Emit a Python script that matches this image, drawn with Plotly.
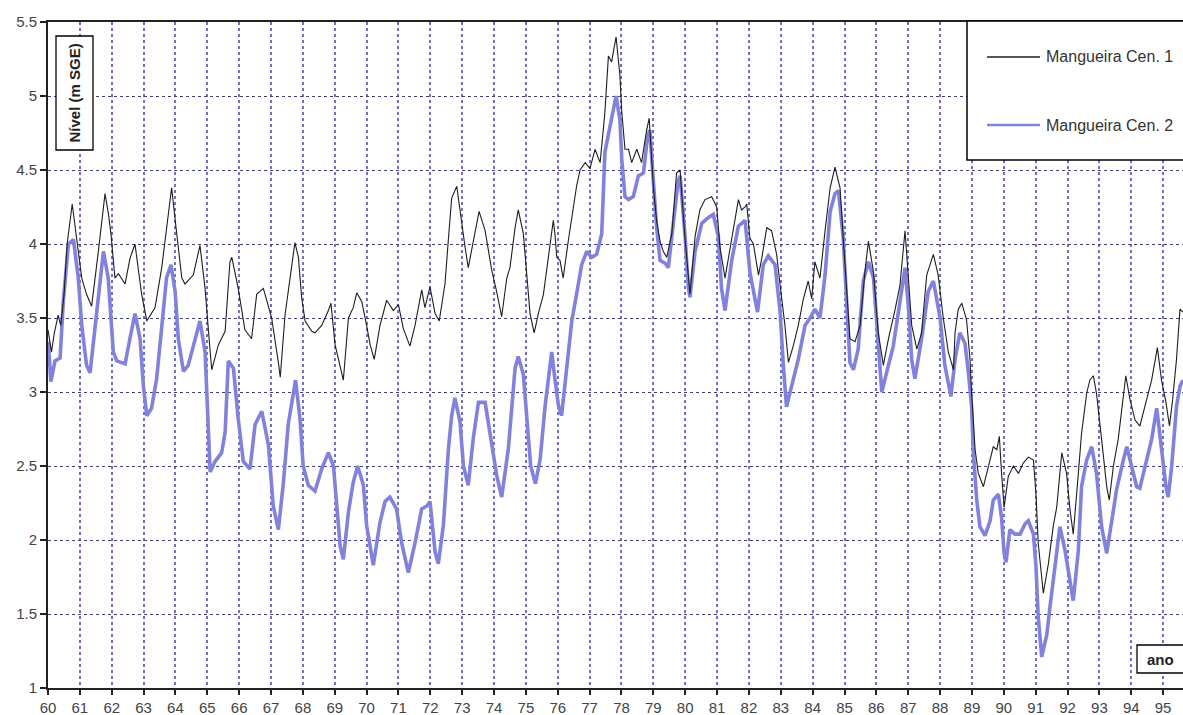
import plotly.graph_objects as go

# ---- data (years as 19xx - 1900, level in m SGE) ----
t1 = [60.00,60.11,60.20,60.32,60.40,60.50,60.60,60.76,60.95,61.06,61.21,61.37,61.58,61.79,61.90,61.98,
      62.10,62.21,62.42,62.57,62.73,62.94,63.10,63.36,63.57,63.78,63.88,64.04,64.20,64.30,64.56,64.77,
      64.93,65.09,65.14,65.35,65.56,65.71,65.77,65.97,66.18,66.39,66.55,66.76,67.02,67.23,67.29,67.44,
      67.60,67.75,67.86,67.96,68.07,68.28,68.38,68.59,68.80,68.88,69.01,69.17,69.27,69.43,69.58,69.69,
      69.85,70.00,70.11,70.24,70.42,70.63,70.84,71.00,71.15,71.36,71.52,71.73,71.83,71.99,72.15,72.28,
      72.46,72.57,72.67,72.83,72.98,73.09,73.19,73.35,73.53,73.72,73.93,74.08,74.24,74.40,74.50,74.66,
      74.76,74.92,75.02,75.13,75.26,75.39,75.55,75.70,75.86,75.91,75.97,76.07,76.17,76.33,76.49,76.59,
      76.70,76.86,77.01,77.17,77.33,77.48,77.59,77.69,77.83,77.95,78.01,78.11,78.22,78.32,78.48,78.63,
      78.79,78.87,79.00,79.10,79.21,79.31,79.42,79.58,79.73,79.84,79.99,80.10,80.15,80.31,80.46,80.62,
      80.83,80.99,81.09,81.25,81.46,81.67,81.77,81.88,81.93,82.03,82.14,82.30,82.40,82.56,82.71,82.87,
      82.98,83.13,83.24,83.39,83.55,83.71,83.86,83.97,84.07,84.23,84.39,84.55,84.70,84.86,84.96,85.07,
      85.17,85.33,85.49,85.64,85.75,85.91,86.06,86.22,86.38,86.59,86.74,86.90,87.00,87.11,87.27,87.42,
      87.58,87.79,87.94,88.10,88.26,88.42,88.47,88.57,88.68,88.83,88.94,88.99,89.10,89.20,89.36,89.51,
      89.67,89.78,89.86,89.93,90.01,90.14,90.30,90.46,90.61,90.77,90.93,91.01,91.08,91.24,91.40,91.55,
      91.66,91.82,91.97,92.08,92.18,92.34,92.44,92.60,92.70,92.81,92.91,93.07,93.23,93.31,93.44,93.59,
      93.70,93.83,93.96,94.12,94.27,94.48,94.64,94.82,94.95,95.09,95.20,95.30,95.42,95.53,95.62]
cen1 = [3.42,3.27,3.40,3.52,3.45,3.65,4.00,4.27,3.95,3.77,3.66,3.58,3.95,4.34,4.20,4.06,
        3.77,3.80,3.73,3.90,4.00,3.66,3.48,3.57,3.84,4.22,4.38,4.07,3.77,3.73,3.79,3.99,
        3.70,3.27,3.15,3.32,3.41,3.88,3.91,3.70,3.42,3.36,3.66,3.70,3.50,3.20,3.10,3.52,
        3.79,4.01,3.91,3.64,3.48,3.41,3.40,3.45,3.55,3.60,3.32,3.18,3.08,3.50,3.57,3.67,
        3.61,3.45,3.32,3.22,3.45,3.62,3.55,3.59,3.43,3.31,3.45,3.69,3.57,3.71,3.53,3.48,
        3.73,4.04,4.31,4.39,4.13,3.98,3.84,4.02,4.22,4.09,3.82,3.68,3.51,3.77,3.84,4.11,
        4.23,4.07,3.80,3.53,3.40,3.53,3.66,3.89,4.16,4.07,3.91,3.89,3.77,4.02,4.27,4.39,
        4.50,4.55,4.51,4.64,4.55,4.89,5.27,5.23,5.40,5.14,4.89,4.64,4.64,4.55,4.64,4.55,
        4.77,4.85,4.39,4.16,4.02,3.95,3.91,4.07,4.48,4.50,4.05,3.75,3.66,4.05,4.23,4.30,
        4.32,4.25,3.98,3.77,4.05,4.30,4.23,4.25,4.27,4.04,4.00,3.79,3.90,4.11,4.09,3.93,
        3.72,3.45,3.20,3.31,3.45,3.63,3.75,3.63,3.88,3.77,4.09,4.38,4.52,4.38,4.04,3.65,
        3.36,3.34,3.45,3.81,4.02,3.81,3.40,3.18,3.36,3.56,3.72,4.09,3.81,3.45,3.29,3.40,
        3.79,3.93,3.79,3.50,3.27,3.15,3.40,3.56,3.60,3.49,3.22,2.99,2.61,2.45,2.36,2.50,
        2.63,2.61,2.70,2.45,2.22,2.43,2.50,2.45,2.52,2.56,2.54,2.31,1.98,1.64,1.84,2.09,
        2.22,2.59,2.45,2.20,2.04,2.45,2.72,2.99,3.08,3.11,2.99,2.68,2.36,2.27,2.50,2.68,
        2.86,3.11,2.95,2.81,2.77,2.95,3.08,3.30,3.08,2.93,2.77,2.95,3.22,3.56,3.54]

t2 = [60.01,60.09,60.22,60.38,60.48,60.64,60.80,60.95,61.06,61.21,61.32,61.48,61.58,61.74,61.89,62.05,
      62.16,62.42,62.57,62.73,62.89,62.99,63.10,63.25,63.41,63.57,63.72,63.86,63.99,64.09,64.25,64.40,
      64.61,64.77,64.93,65.03,65.09,65.24,65.45,65.56,65.66,65.82,65.97,66.13,66.34,66.50,66.71,66.92,
      67.07,67.23,67.39,67.54,67.70,67.77,67.91,68.01,68.17,68.38,68.59,68.80,68.96,69.06,69.17,69.27,
      69.43,69.58,69.72,69.90,70.00,70.21,70.42,70.58,70.73,70.94,71.10,71.31,71.52,71.73,71.89,71.99,
      72.15,72.25,72.41,72.57,72.67,72.77,72.93,73.04,73.19,73.35,73.51,73.72,73.93,74.08,74.24,74.45,
      74.66,74.76,74.92,75.02,75.15,75.30,75.45,75.60,75.81,75.91,76.02,76.12,76.28,76.44,76.59,76.75,
      76.91,77.06,77.22,77.38,77.48,77.59,77.69,77.83,77.95,78.01,78.11,78.22,78.37,78.53,78.69,78.82,
      78.89,79.00,79.10,79.21,79.37,79.47,79.63,79.78,79.84,79.99,80.10,80.15,80.31,80.52,80.73,80.88,
      81.04,81.14,81.25,81.46,81.67,81.88,82.03,82.14,82.27,82.45,82.61,82.82,82.98,83.08,83.18,83.34,
      83.55,83.76,83.92,84.07,84.23,84.39,84.55,84.70,84.81,84.96,85.07,85.17,85.28,85.43,85.59,85.75,
      85.91,86.06,86.17,86.32,86.53,86.74,86.90,87.00,87.11,87.21,87.42,87.63,87.79,88.00,88.15,88.34,
      88.47,88.62,88.78,88.89,88.99,89.04,89.15,89.25,89.41,89.57,89.67,89.83,89.93,90.01,90.07,90.19,
      90.35,90.51,90.67,90.77,90.93,91.01,91.08,91.19,91.35,91.45,91.61,91.76,91.92,92.08,92.18,92.34,
      92.44,92.60,92.76,92.91,93.07,93.23,93.39,93.54,93.75,93.86,94.01,94.17,94.27,94.48,94.64,94.80,
      94.95,95.09,95.16,95.27,95.42,95.53,95.62]
cen2 = [3.34,3.07,3.21,3.23,3.61,4.00,4.03,3.77,3.45,3.18,3.13,3.45,3.68,3.95,3.77,3.27,
        3.21,3.19,3.36,3.53,3.36,3.05,2.84,2.89,3.09,3.45,3.77,3.86,3.68,3.36,3.14,3.18,
        3.36,3.48,3.27,2.78,2.46,2.53,2.59,2.73,3.21,3.16,2.82,2.53,2.48,2.78,2.87,2.64,
        2.23,2.07,2.39,2.78,3.00,3.08,2.82,2.50,2.37,2.33,2.48,2.59,2.50,2.21,1.96,1.87,
        2.19,2.39,2.50,2.37,2.10,1.83,2.12,2.26,2.29,2.21,1.98,1.78,1.98,2.21,2.23,2.26,
        1.92,1.84,2.10,2.62,2.84,2.96,2.80,2.50,2.37,2.69,2.93,2.93,2.66,2.44,2.29,2.62,
        3.16,3.24,3.12,2.83,2.50,2.38,2.55,2.90,3.27,3.09,2.91,2.84,3.16,3.48,3.66,3.86,
        3.95,3.91,3.93,4.07,4.62,4.75,4.84,5.00,4.84,4.57,4.32,4.30,4.32,4.46,4.48,4.73,
        4.77,4.43,4.12,3.89,3.87,3.84,4.12,4.43,4.46,4.07,3.70,3.64,3.95,4.14,4.18,4.20,
        4.05,3.70,3.55,3.89,4.12,4.16,3.81,3.68,3.54,3.86,3.92,3.86,3.54,3.18,2.90,3.04,
        3.22,3.45,3.50,3.56,3.50,3.79,4.22,4.34,4.36,4.04,3.63,3.20,3.15,3.29,3.75,3.88,
        3.77,3.36,3.00,3.13,3.31,3.61,3.84,3.59,3.22,3.09,3.36,3.68,3.75,3.50,3.18,2.97,
        3.22,3.40,3.33,3.13,2.90,2.61,2.27,2.09,2.03,2.13,2.27,2.31,2.15,1.91,1.85,2.07,
        2.04,2.04,2.11,2.13,2.04,1.82,1.48,1.21,1.36,1.55,1.82,2.09,1.93,1.73,1.59,1.93,
        2.36,2.54,2.63,2.45,2.09,1.91,2.13,2.34,2.54,2.63,2.50,2.36,2.35,2.54,2.68,2.89,
        2.63,2.36,2.29,2.50,2.90,3.04,3.08]

series_names = ["Mangueira Cen. 1", "Mangueira Cen. 2"]
x_ticks = list(range(60, 96))
y_ticks = [1, 1.5, 2, 2.5, 3, 3.5, 4, 4.5, 5, 5.5]

# ---- layout geometry (pixels) ----
W, H = 1183, 715
L, T, B = 48, 22, 688
PW, PH = W - L, B - T

def px(x):
    return (x - L) / PW

def py(y):
    return (B - y) / PH

BLACK = "#1e1e1e"
LAV = "#8282dc"
FONT = "Arial, Liberation Sans, sans-serif"

fig = go.Figure()
fig.add_trace(go.Scatter(x=t2, y=cen2, mode="lines", name=series_names[1],
                         line=dict(color=LAV, width=3.6), showlegend=False))
fig.add_trace(go.Scatter(x=t1, y=cen1, mode="lines", name=series_names[0],
                         line=dict(color=BLACK, width=1.1), showlegend=False))

shapes = []
# legend box
shapes.append(dict(type="rect", xref="paper", yref="paper", x0=px(967), x1=px(1195),
                   y0=py(160), y1=py(21), line=dict(color="black", width=1.5),
                   fillcolor="white", layer="above"))
shapes.append(dict(type="line", xref="paper", yref="paper", x0=px(987), x1=px(1040),
                   y0=py(57), y1=py(57), line=dict(color=BLACK, width=1.3), layer="above"))
shapes.append(dict(type="line", xref="paper", yref="paper", x0=px(987), x1=px(1040),
                   y0=py(125), y1=py(125), line=dict(color=LAV, width=2.5), layer="above"))
# y title box
shapes.append(dict(type="rect", xref="paper", yref="paper", x0=px(56), x1=px(93),
                   y0=py(150), y1=py(36), line=dict(color="black", width=1.3),
                   fillcolor="white", layer="above"))
# "ano" box
shapes.append(dict(type="rect", xref="paper", yref="paper", x0=px(1137), x1=px(1190),
                   y0=py(673), y1=py(645), line=dict(color="black", width=1.3),
                   fillcolor="white", layer="above"))

annotations = [
    dict(xref="paper", yref="paper", x=px(1044), y=py(57), xanchor="left", yanchor="middle",
         text=series_names[0], showarrow=False, font=dict(family=FONT, size=16, color="#333")),
    dict(xref="paper", yref="paper", x=px(1044), y=py(125), xanchor="left", yanchor="middle",
         text=series_names[1], showarrow=False, font=dict(family=FONT, size=16, color="#333")),
    dict(xref="paper", yref="paper", x=px(74.5), y=py(93), xanchor="center", yanchor="middle",
         text="<b>Nível (m SGE)</b>", textangle=-90, showarrow=False,
         font=dict(family=FONT, size=15, color="#222")),
    dict(xref="paper", yref="paper", x=px(1160), y=py(659), xanchor="center", yanchor="middle",
         text="<b>ano</b>", showarrow=False, font=dict(family=FONT, size=15, color="#222")),
]

fig.update_layout(
    width=W, height=H,
    margin=dict(l=L, r=0, t=T, b=H - B, pad=0),
    paper_bgcolor="white", plot_bgcolor="white",
    shapes=shapes, annotations=annotations,
    font=dict(family=FONT, color="#444"),
    xaxis=dict(range=[60, 60 + PW / 31.86], tickmode="array", tickvals=x_ticks,
               ticktext=[str(v) for v in x_ticks],
               showgrid=True, gridcolor="#7070c4", gridwidth=1.6, griddash="dot",
               showline=True, linecolor="#222", linewidth=2, mirror=True,
               ticks="outside", ticklen=5, tickcolor="#222", tickwidth=1.5,
               tickfont=dict(family=FONT, size=15, color="#444"), zeroline=False),
    yaxis=dict(range=[1, 5.5], tickmode="array", tickvals=y_ticks,
               ticktext=[("%g" % v) for v in y_ticks],
               showgrid=True, gridcolor="#404070", gridwidth=1, griddash="dot",
               showline=True, linecolor="#222", linewidth=2,
               ticks="outside", ticklen=6, tickcolor="#222", tickwidth=1.5,
               tickfont=dict(family=FONT, size=15, color="#444"), zeroline=False),
)

fig.write_html("out.html", config={"displayModeBar": False})

# remove the browser's default page margin so the figure sits at the window's corner
with open("out.html", "r", encoding="utf-8") as f:
    html = f.read()
html = html.replace("<head>", "<head><style>html,body{margin:0;padding:0;overflow:hidden;}</style>", 1)
with open("out.html", "w", encoding="utf-8") as f:
    f.write(html)
